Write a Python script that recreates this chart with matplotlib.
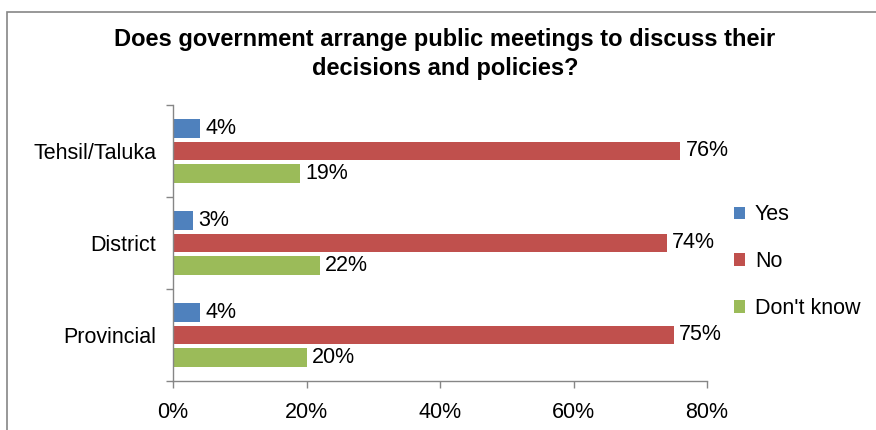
import matplotlib
matplotlib.use('Agg')

import matplotlib.pyplot as plt
from matplotlib.patches import Rectangle
import numpy as np

plt.rcParams['font.family'] = ['Liberation Sans', 'DejaVu Sans']

levels = ["Tehsil/Taluka", "District", "Provincial"]
answers = ["Yes", "No", "Don't know"]
yes_pct = [4, 3, 4]
no_pct = [76, 74, 75]
dont_know_pct = [19, 22, 20]
x_ticks = [0, 20, 40, 60, 80]

colors = ["#4f81bd", "#c0504d", "#9bbb59"]
axis_gray = "#868686"
fs = 15.5

fig = plt.figure(figsize=(8.76, 4.3), dpi=100)

# outer chart frame
fig.patches.append(Rectangle((7 / 876, -0.05), 1.1, 1 - 12 / 430 + 0.05,
                             transform=fig.transFigure, fill=False,
                             edgecolor=axis_gray, linewidth=1.2))

ax = fig.add_axes([173 / 876, 1 - 381 / 430, (707 - 173) / 876, (381 - 105) / 430])

y = np.arange(len(levels))
offset = 0.245
height = 0.2
series = [yes_pct, no_pct, dont_know_pct]
for i, (name, vals) in enumerate(zip(answers, series)):
    pos = y + (i - 1) * offset
    ax.barh(pos, vals, height=height, color=colors[i], label=name)
    for p, v in zip(pos, vals):
        ax.text(v + 0.8, p, f"{v}%", va='center', ha='left', fontsize=fs)

ax.set_xlim(0, 80)
ax.set_ylim(2.5, -0.5)
ax.set_xticks(x_ticks)
ax.set_xticklabels([f"{t}%" for t in x_ticks], fontsize=fs)
ax.set_yticks([-0.5, 0.5, 1.5, 2.5])
ax.set_yticklabels([])
ax.set_yticks(y, minor=True)
ax.set_yticklabels(levels, minor=True, fontsize=fs)
ax.tick_params(axis='y', which='minor', length=0, pad=12)
ax.tick_params(axis='y', which='major', length=5, color=axis_gray, width=1)
ax.tick_params(axis='x', length=5, color=axis_gray, width=1, pad=10)

for side in ['top', 'right']:
    ax.spines[side].set_visible(False)
for side in ['left', 'bottom']:
    ax.spines[side].set_color(axis_gray)
    ax.spines[side].set_linewidth(1)

fig.text(445 / 876, 1 - 54 / 430,
         "Does government arrange public meetings to discuss their\ndecisions and policies?",
         ha='center', va='center', fontsize=17, fontweight='bold', linespacing=1.35)

fig.legend(loc='upper left', bbox_to_anchor=(715 / 876, 1 - 185 / 430),
           frameon=False, fontsize=fs, handlelength=0.5, handleheight=0.5,
           labelspacing=1.2, handletextpad=0.45)

fig.savefig('out.png', dpi=100)
